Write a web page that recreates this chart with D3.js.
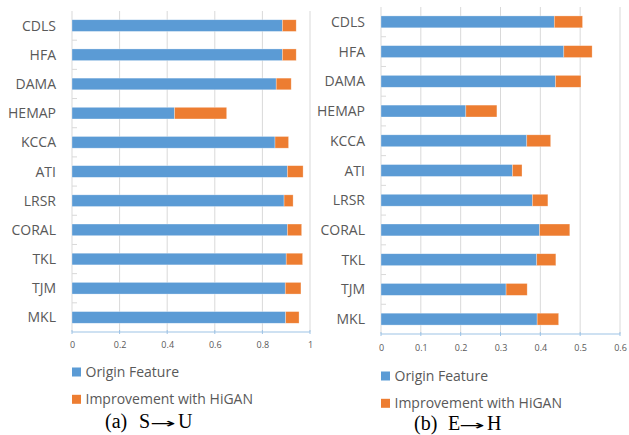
<!doctype html>
<html lang="en">
<head>
  <meta charset="utf-8" />
  <title>HiGAN improvement bars</title>
  <script src="https://cdn.jsdelivr.net/npm/d3@7"></script>
  <style>
    body { margin: 0; background: #fff; }
    text { font-family: "Open Sans", "Noto Sans", sans-serif; fill: #595959; }
  </style>
</head>
<body>
  <svg id="chart" width="629" height="435"></svg>
  <script>
    const categories = ["CDLS", "HFA", "DAMA", "HEMAP", "KCCA", "ATI", "LRSR", "CORAL", "TKL", "TJM", "MKL"];

    // (a) S->U
    const originSU = [0.884, 0.884, 0.858, 0.431, 0.853, 0.905, 0.891, 0.905, 0.900, 0.896, 0.898];
    const improveSU = [0.058, 0.058, 0.063, 0.219, 0.057, 0.066, 0.038, 0.060, 0.069, 0.066, 0.056];
    const ticksSU = [0, 0.2, 0.4, 0.6, 0.8, 1];

    // (b) E->H
    const originEH = [0.435, 0.459, 0.438, 0.213, 0.366, 0.330, 0.380, 0.398, 0.391, 0.314, 0.392];
    const improveEH = [0.071, 0.071, 0.064, 0.078, 0.060, 0.024, 0.039, 0.076, 0.048, 0.053, 0.054];
    const ticksEH = [0, 0.1, 0.2, 0.3, 0.4, 0.5, 0.6];

    const seriesNames = ["Origin Feature", "Improvement with HiGAN"];
    const colors = ["#5b9bd5", "#ed7d31"];

    const svg = d3.select("#chart");

    function drawPanel(opts) {
      const x = d3.scaleLinear().domain([0, d3.max(opts.ticks)]).range([opts.x0, opts.x1]);
      const y = d3.scaleBand().domain(categories).range([opts.y0, opts.y1])
        .paddingInner(0.6).paddingOuter(0.3);
      const g = svg.append("g");

      // gridlines
      g.selectAll(".grid").data(opts.ticks.slice(1)).enter().append("line")
        .attr("x1", d => x(d)).attr("x2", d => x(d))
        .attr("y1", opts.y0).attr("y2", opts.y1)
        .attr("stroke", "#d9d9d9").attr("stroke-width", 1);

      // category axis
      g.append("line")
        .attr("x1", opts.x0).attr("x2", opts.x0)
        .attr("y1", opts.y0).attr("y2", opts.y1)
        .attr("stroke", "#d9d9d9");
      const step = y.step();
      g.selectAll(".ctick").data(categories.slice(1)).enter().append("line")
        .attr("x1", opts.x0).attr("x2", opts.x0 + 5)
        .attr("y1", d => y(d) - step * y.paddingInner() / 2)
        .attr("y2", d => y(d) - step * y.paddingInner() / 2)
        .attr("stroke", "#d9d9d9");

      g.selectAll(".clabel").data(categories).enter().append("text")
        .attr("x", opts.labelX)
        .attr("y", d => y(d) + y.bandwidth() / 2)
        .attr("dy", "0.36em")
        .attr("text-anchor", "end")
        .style("font-size", "14px")
        .text(d => d);

      // stacked bars
      const rows = categories.map((c, i) => ({ cat: c, a: opts.origin[i], b: opts.improve[i] }));
      const bars = g.selectAll(".bar").data(rows).enter().append("g");
      bars.append("rect")
        .attr("x", x(0))
        .attr("y", d => y(d.cat))
        .attr("width", d => x(d.a) - x(0))
        .attr("height", y.bandwidth())
        .attr("fill", colors[0])
        .attr("stroke", "#fff").attr("stroke-opacity", 0.5).attr("stroke-width", 0.6);
      bars.append("rect")
        .attr("x", d => x(d.a))
        .attr("y", d => y(d.cat))
        .attr("width", d => x(d.a + d.b) - x(d.a))
        .attr("height", y.bandwidth())
        .attr("fill", colors[1])
        .attr("stroke", "#fff").attr("stroke-opacity", 0.5).attr("stroke-width", 0.6);

      // value axis
      const xAxis = g.append("g").attr("transform", `translate(0,${opts.y1})`)
        .call(d3.axisBottom(x).tickValues(opts.ticks).tickSize(0).tickPadding(opts.tickPad)
          .tickFormat(d3.format("~g")));
      xAxis.select(".domain").remove();
      xAxis.selectAll("text").style("font-size", "9px").style("fill", "#595959")
        .style("font-family", "'Open Sans', sans-serif");
      g.append("line")
        .attr("x1", opts.x0).attr("x2", opts.x1)
        .attr("y1", opts.y1).attr("y2", opts.y1)
        .attr("stroke", "#9dc3e6").attr("stroke-width", 1.2);
      g.selectAll(".xtick").data(opts.ticks).enter().append("line")
        .attr("x1", d => x(d)).attr("x2", d => x(d))
        .attr("y1", opts.y1 - 2).attr("y2", opts.y1 + 2)
        .attr("stroke", "#9dc3e6");

      // legend
      seriesNames.forEach((name, i) => {
        const ly = opts.legendY + i * 27.3;
        g.append("rect")
          .attr("x", opts.legendX).attr("y", ly - 4.5)
          .attr("width", 9).attr("height", 9)
          .attr("fill", colors[i]);
        g.append("text")
          .attr("x", opts.legendX + 13.5).attr("y", ly)
          .attr("dy", "0.36em")
          .style("font-size", "14px")
          .text(name);
      });

      // caption, e.g. "(a) S→U" in a Times-like face with a long thin arrow
      const cx = opts.captionX, cy = opts.captionY;
      const serif = "'Liberation Serif', 'Times New Roman', serif";
      const parts = [[opts.caption[0], 0], [opts.caption[1], 34], [opts.caption[2], 73]];
      parts.forEach(([t, dx]) => {
        g.append("text").attr("x", cx + dx).attr("y", cy)
          .style("font-family", serif).style("font-size", "20px").style("fill", "#000")
          .text(t);
      });
      g.append("text")
        .attr("transform", `translate(${cx + 45},${cy - 0.5}) scale(2.2,1)`)
        .style("font-family", "'DejaVu Sans', sans-serif").style("font-size", "14px")
        .style("fill", "#000")
        .text("\u2192");
    }

    drawPanel({
      origin: originSU, improve: improveSU, ticks: ticksSU,
      x0: 72, x1: 310, y0: 11, y1: 332, labelX: 56, tickPad: 10,
      legendX: 72, legendY: 372, captionX: 105, captionY: 428, caption: ["(a)", "S", "U"]
    });
    drawPanel({
      origin: originEH, improve: improveEH, ticks: ticksEH,
      x0: 381, x1: 620, y0: 7, y1: 334, labelX: 365, tickPad: 11,
      legendX: 381, legendY: 376, captionX: 414, captionY: 430, caption: ["(b)", "E", "H"]
    });
  </script>
</body>
</html>
